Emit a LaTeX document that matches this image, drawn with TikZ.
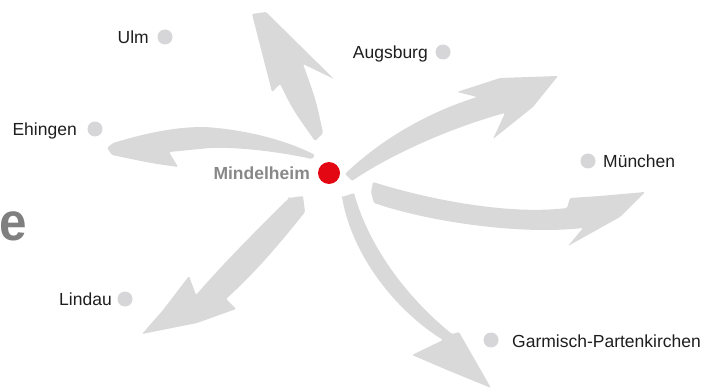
\documentclass[tikz,border=0pt]{standalone}
\usepackage{fontspec}
\setmainfont{Liberation Sans}
\definecolor{arrowgray}{HTML}{D9D9D9}
\definecolor{dotgray}{HTML}{D6D5D8}
\definecolor{labelgray}{HTML}{888888}
\definecolor{bigegray}{HTML}{7F7F7F}
\definecolor{hubred}{HTML}{E30613}
\definecolor{txt}{HTML}{1E1E1E}
\tikzset{
  arr/.style={fill=arrowgray, draw=none, rounded corners=1.2pt},
  citydot/.style={circle, fill=dotgray, minimum size=15pt, inner sep=0pt},
  citylabel/.style={font=\fontsize{17.5}{20}\selectfont, text=txt, inner sep=0pt},
}
\begin{document}
\begin{tikzpicture}[x=1pt,y=-1pt]
\useasboundingbox (0,0) rectangle (709,390);
% brush arrows
% to Ulm
\fill[arr] (315,141) -- (323,133) .. controls (316,100) .. (303,64) -- (334,79) -- (266,12) -- (252,14) -- (272,92) -- (280,84) .. controls (293,110) .. (315,141) -- cycle;
% to Ehingen
\fill[arr] (107,148) -- (113,143) .. controls (140,135) and (170,127) .. (205,127) .. controls (250,130) and (290,142) .. (315,155) -- (312,159) .. controls (280,152) and (240,147) .. (210,148) -- (169,152) -- (178,167) .. controls (150,163) .. (112,155) -- cycle;
% to Augsburg (up-right)
\fill[arr] (345,174) .. controls (375,145) and (420,115) .. (477,97) -- (457,92) -- (500,78) -- (558,76) -- (533,107) -- (493,139) -- (505,113) .. controls (450,128) and (390,155) .. (352,181) -- cycle;
% to Muenchen
\fill[arr] (373,182) .. controls (430,200) and (510,215) .. (567,208) -- (570,198) -- (600,196) -- (645,192) -- (620,217) -- (568,246) -- (583,228) .. controls (520,235) and (430,222) .. (374,203) -- (371,192) -- cycle;
% to Lindau
\fill[arr] (289,198) -- (303,196) -- (305,212) .. controls (282,241) and (256,272) .. (226,299) -- (236,309) -- (197,323) -- (142,334) -- (163,310) -- (189,276) -- (196,295) .. controls (228,258) and (263,224) .. (289,198) -- cycle;
% to Garmisch
\fill[arr] (342,197) -- (354,193) .. controls (370,250) and (410,300) .. (452,334) -- (459,332) -- (491,388) -- (447,370) -- (412,355) -- (443,340) .. controls (395,310) and (352,255) .. (342,197) -- cycle;

% partial big letter
\node[anchor=base west, inner sep=0pt, text=bigegray, font=\bfseries\fontsize{52}{52}\selectfont] (bige) at (-1,240) {\scalebox{0.95}[1.03]{e}};

% hub
\node[circle, fill=hubred, minimum size=22pt, inner sep=0pt] (hub) at (329,173) {};
\node[anchor=base east, inner sep=0pt, text=labelgray, font=\bfseries\fontsize{17.5}{20}\selectfont] (hublabel) at (310,179) {Mindelheim};

% cities
\node[citydot] (ulmdot) at (165,37) {};
\node[citylabel, anchor=base east] (ulm) at (149,43.3) {Ulm};
\node[citydot] (augdot) at (443,52) {};
\node[citylabel, anchor=base east] (aug) at (428,58.3) {Augsburg};
\node[citydot] (ehidot) at (95,129) {};
\node[citylabel, anchor=base east] (ehi) at (77,135.3) {Ehingen};
\node[citydot] (muedot) at (588,161) {};
\node[citylabel, anchor=base west] (mue) at (603,167.3) {München};
\node[citydot] (lindot) at (125,299) {};
\node[citylabel, anchor=base east] (lin) at (112,305.3) {Lindau};
\node[citydot] (gardot) at (491,340) {};
\node[citylabel, anchor=base west] (gar) at (512,347) {Garmisch-Partenkirchen};
\end{tikzpicture}
\end{document}
